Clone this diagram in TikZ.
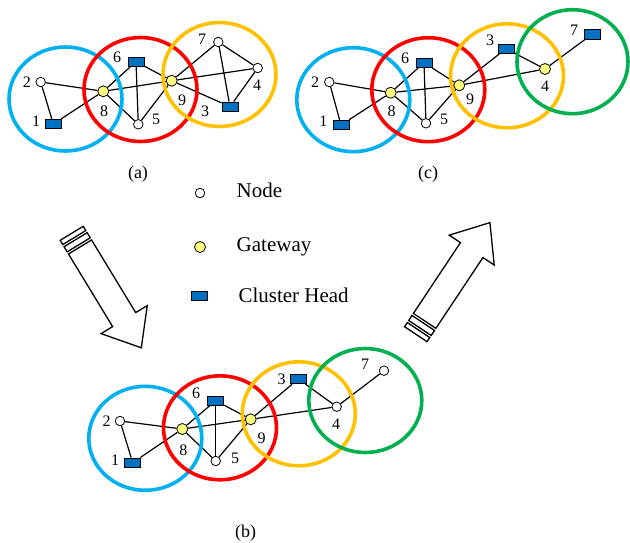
\documentclass[tikz,border=0pt]{standalone}
\usepackage{fontspec}
\setmainfont{Liberation Serif}
\pgfdeclarelayer{edgelayer}
\pgfdeclarelayer{ringlayer}
\pgfsetlayers{edgelayer,ringlayer,main}

\definecolor{ringblue}{RGB}{0,176,240}
\definecolor{ringred}{RGB}{255,0,0}
\definecolor{ringgold}{RGB}{255,192,0}
\definecolor{ringgreen}{RGB}{0,176,80}
\definecolor{headblue}{RGB}{0,112,192}
\definecolor{gatefill}{RGB}{255,255,128}

\tikzset{
  plain/.style={circle,draw,fill=white,line width=0.8pt,inner sep=0pt,minimum size=9.5pt},
  gate/.style={circle,draw,fill=gatefill,line width=0.8pt,inner sep=0pt,minimum size=11pt},
  head/.style={rectangle,draw,fill=headblue,line width=0.9pt,inner sep=0pt,minimum width=16pt,minimum height=9.5pt},
  lbl/.style={font=\fontsize{16}{16}\selectfont,inner sep=0pt},
  sublbl/.style={font=\fontsize{18}{18}\selectfont,inner sep=0pt},
  legtext/.style={font=\fontsize{21}{21}\selectfont,inner sep=0pt,anchor=base west},
  link/.style={line width=1.2pt},
  ring/.style={line width=3.6pt},
  bigarrow/.style={draw,line width=1.3pt,fill=white,line join=miter},
}

% hollow block arrow with two bands at its tail, drawn along the local x axis
\newcommand{\bandarrow}{%
  \draw[bigarrow] (16,-13.5) -- (101,-13.5) -- (101,-27) -- (134,0) -- (101,27) -- (101,13.5) -- (16,13.5) -- cycle;
  \draw[bigarrow] (7.5,-13.5) rectangle (13.5,13.5);
  \draw[bigarrow] (0,-13.5) rectangle (5,13.5);
}

\begin{document}
\begin{tikzpicture}[x=1pt,y=-1pt]
\useasboundingbox (0,0) rectangle (630,542);

% ---------------- panel (a) ----------------
\node[head]  (a1) at (53.3,124)   {};
\node[plain] (a2) at (40.7,82)    {};
\node[head]  (a3) at (230,106.7)  {};
\node[plain] (a4) at (257.7,68)   {};
\node[plain] (a5) at (138.3,124.3) {};
\node[head]  (a6) at (136,61.7)   {};
\node[plain] (a7) at (218.3,42)   {};
\node[gate]  (a8) at (103.3,91.3) {};
\node[gate]  (a9) at (171.7,80.7) {};
\foreach \n/\x/\y in {2/27/82,1/36/121,8/104/111,6/117/57,5/156/119,9/182/100,7/202/39,4/257/85,3/205/111}
  \node[lbl] (a\n l) at (\x,\y) {\n};

% ---------------- panel (c) ----------------
\node[head]  (c1) at (341,125)    {};
\node[plain] (c2) at (329.3,82)   {};
\node[head]  (c3) at (506,48.7)   {};
\node[gate]  (c4) at (545,69)     {};
\node[plain] (c5) at (426,123.3)  {};
\node[head]  (c6) at (424,62.7)   {};
\node[head]  (c7) at (592,34.3)   {};
\node[gate]  (c8) at (390.7,92.7) {};
\node[gate]  (c9) at (459.3,85.3) {};
\foreach \n/\x/\y in {2/315/82,1/323.3/121.7,8/391.7/111.7,6/405/58.3,5/444/119.3,9/470/99,3/490/40,4/545/86.5,7/574/30}
  \node[lbl] (c\n l) at (\x,\y) {\n};

% ---------------- panel (b) ----------------
\node[head]  (b1) at (132.7,462.7) {};
\node[plain] (b2) at (120,421)     {};
\node[head]  (b3) at (298.3,379)   {};
\node[plain] (b4) at (336.7,406.7) {};
\node[plain] (b5) at (215.7,461)   {};
\node[head]  (b6) at (215.7,400.7) {};
\node[plain] (b7) at (384,370.7)   {};
\node[gate]  (b8) at (182.3,429)   {};
\node[gate]  (b9) at (250.7,419.3) {};
\foreach \n/\x/\y in {2/106.7/421,1/115/460,8/183.3/450,6/196/393.3,5/235/458.3,9/261.7/438.3,3/281.7/379,4/336/424,7/365/364}
  \node[lbl] (b\n l) at (\x,\y) {\n};

% links between nodes
\begin{pgfonlayer}{edgelayer}
  \foreach \p/\q in {2/1,2/8,1/8,8/6,8/5,6/5,6/9,5/9,8/9,9/7,9/3,9/4,7/3,7/4,4/3}
    \draw[link] (a\p) -- (a\q);
  \foreach \p/\q in {2/1,2/8,1/8,8/6,8/5,6/5,6/9,5/9,8/9,9/3,3/4,9/4,4/7}
  {
    \draw[link] (c\p) -- (c\q);
    \draw[link] (b\p) -- (b\q);
  }
\end{pgfonlayer}

% cluster rings
\begin{pgfonlayer}{ringlayer}
  \draw[ring,ringblue] (65.5,99)   ellipse [x radius=56.5, y radius=52];
  \draw[ring,ringred]  (140.5,89.5) ellipse [x radius=56.5, y radius=52];
  \draw[ring,ringgold] (219.5,74.5) ellipse [x radius=56.5, y radius=52];

  \draw[ring,ringblue]  (353.3,99.7) ellipse [x radius=56.5, y radius=52];
  \draw[ring,ringred]   (428.3,89.7) ellipse [x radius=56.5, y radius=52];
  \draw[ring,ringgold]  (507,75.8)   ellipse [x radius=56.5, y radius=52];
  \draw[ring,ringgreen] (572.5,61.7) ellipse [x radius=55.5, y radius=52];

  \draw[ring,ringblue]  (145.3,438.3) ellipse [x radius=56.5, y radius=52];
  \draw[ring,ringred]   (220,427.8)   ellipse [x radius=56.5, y radius=52];
  \draw[ring,ringgold]  (298.8,413.8) ellipse [x radius=56.5, y radius=52];
  \draw[ring,ringgreen] (365.3,400.5) ellipse [x radius=56.5, y radius=52];
\end{pgfonlayer}

% panel captions
\node[sublbl] (capa) at (138,174) {(a)};
\node[sublbl] (capc) at (428,174) {(c)};
\node[sublbl] (capb) at (245.5,533) {(b)};

% legend
\node[plain] (lgnode) at (200,193) {};
\node[gate]  (lggate) at (200,247) {};
\node[head]  (lghead) at (199.5,296) {};
\node[legtext] (lgnodet) at (236.5,197.3) {Node};
\node[legtext] (lggatet) at (236.5,251.7) {Gateway};
\node[legtext] (lgheadt) at (238.3,302.7) {Cluster Head};

% transition arrows
\begin{scope}[shift={(71.7,233.3)},rotate=-58.7]
  \bandarrow
\end{scope}
\begin{scope}[shift={(415.8,334.2)},rotate=56.4]
  \bandarrow
\end{scope}
\end{tikzpicture}
\end{document}
